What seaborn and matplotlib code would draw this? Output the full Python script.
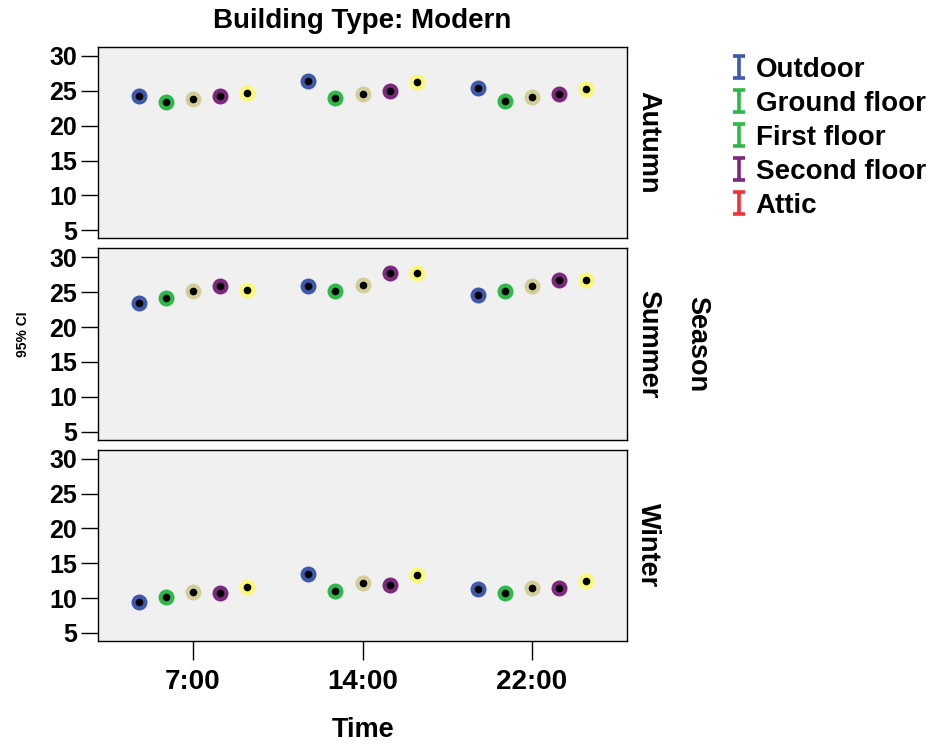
import numpy as np
import pandas as pd
import matplotlib
matplotlib.use("Agg")
import matplotlib.pyplot as plt
import seaborn as sns
from matplotlib.lines import Line2D
from matplotlib.path import Path

# ---------------- data ----------------
times = ["7:00", "14:00", "22:00"]
locations = ["Outdoor", "Ground floor", "First floor", "Second floor", "Attic"]
seasons = ["Autumn", "Summer", "Winter"]

autumn = {
    "Outdoor":      [24.3, 26.4, 25.4],
    "Ground floor": [23.4, 24.0, 23.6],
    "First floor":  [23.9, 24.5, 24.1],
    "Second floor": [24.3, 25.0, 24.5],
    "Attic":        [24.7, 26.2, 25.2],
}
summer = {
    "Outdoor":      [23.5, 25.9, 24.6],
    "Ground floor": [24.2, 25.1, 25.1],
    "First floor":  [25.2, 26.1, 25.9],
    "Second floor": [25.9, 27.8, 26.7],
    "Attic":        [25.3, 27.7, 26.8],
}
winter = {
    "Outdoor":      [9.5, 13.4, 11.3],
    "Ground floor": [10.1, 11.0, 10.7],
    "First floor":  [10.9, 12.1, 11.5],
    "Second floor": [10.8, 11.9, 11.4],
    "Attic":        [11.6, 13.3, 12.5],
}
season_data = [autumn, summer, winter]
y_ticks = [5, 10, 15, 20, 25, 30]

point_colors = ["#3E58AC", "#2EB848", "#D3CE97", "#7C287D", "#FBF873"]
legend_colors = ["#3E58AC", "#2EB848", "#2EB848", "#7C287D", "#EF3338"]

# ---------------- style ----------------
sns.set_style("white")
plt.rcParams["font.family"] = ["Liberation Sans", "DejaVu Sans"]
plt.rcParams["font.weight"] = "bold"
plt.rcParams["text.color"] = "black"
plt.rcParams["axes.labelcolor"] = "black"
plt.rcParams["xtick.color"] = "black"
plt.rcParams["ytick.color"] = "black"

W, H = 934, 746
fig, axes = plt.subplots(3, 1, figsize=(W / 100, H / 100), dpi=100,
                         sharex=True, sharey=True)
fig.subplots_adjust(left=98 / W, right=627 / W, top=1 - 47 / H,
                    bottom=1 - 641 / H, hspace=10 / 191.3)

pal_pts = dict(zip(locations, point_colors))
pal_black = {loc: "black" for loc in locations}

for i, (ax, season, data) in enumerate(zip(axes, seasons, season_data)):
    rows = []
    for loc in locations:
        for t, v in zip(times, data[loc]):
            rows.append({"Time": t, "Location": loc, "Temp": v})
    df = pd.DataFrame(rows)
    sns.stripplot(data=df, x="Time", y="Temp", hue="Location", order=times,
                  hue_order=locations, palette=pal_pts, dodge=True, jitter=False,
                  size=11.5, linewidth=0, legend=False, ax=ax, zorder=3)
    sns.stripplot(data=df, x="Time", y="Temp", hue="Location", order=times,
                  hue_order=locations, palette=pal_black, dodge=True, jitter=False,
                  size=5.5, linewidth=0, legend=False, ax=ax, zorder=4)
    ax.set_xlim(-0.56, 2.56)
    ax.set_ylim(3.85, 31.29)
    ax.set_yticks(y_ticks)
    ax.set_facecolor("#F0F0F0")
    for sp in ax.spines.values():
        sp.set_visible(True)
        sp.set_color("black")
        sp.set_linewidth(1.0)
    ax.set_xlabel("")
    ax.set_ylabel("")
    ax.tick_params(axis="y", left=True, length=12, width=1, pad=3,
                   labelsize=18, color="black", labelcolor="black")
    if i < 2:
        ax.tick_params(axis="x", bottom=False, labelbottom=False, length=0)
    else:
        ax.tick_params(axis="x", bottom=True, length=14, width=1, pad=6,
                       labelsize=20, color="black", labelcolor="black")
    for lab in ax.get_yticklabels() + ax.get_xticklabels():
        lab.set_fontweight("bold")
    # row label
    bb = ax.get_position()
    fig.text(648 / W, (bb.y0 + bb.y1) / 2, season, rotation=-90,
             ha="center", va="center", fontsize=19.5, fontweight="bold",
             color="black")

fig.text(362 / W, 1 - 21 / H, "Building Type: Modern", ha="center", va="center",
         fontsize=20, fontweight="bold", color="black")
fig.text(363 / W, 1 - 730 / H, "Time", ha="center", va="center",
         fontsize=19.5, fontweight="bold", color="black")
fig.text(697 / W, 1 - 344 / H, "Season", rotation=-90, ha="center", va="center",
         fontsize=19.5, fontweight="bold", color="black")
fig.text(23 / W, 1 - 334 / H, "95% CI", rotation=90, ha="center", va="center",
         fontsize=10, fontweight="bold", color="black")

# legend with error-bar style "I" markers
ibar = Path([(-0.55, -1), (0.55, -1), (0, -1), (0, 1), (-0.55, 1), (0.55, 1)],
            [Path.MOVETO, Path.LINETO, Path.MOVETO, Path.LINETO,
             Path.MOVETO, Path.LINETO])
handles = [Line2D([], [], linestyle="none", marker=ibar, markersize=16,
                  markeredgewidth=2.6, markeredgecolor=c, markerfacecolor="none")
           for c in legend_colors]
leg = fig.legend(handles, locations, loc="upper left",
                 bbox_to_anchor=(730.7 / W, 1 - 57 / H), frameon=False,
                 handlelength=0.6, handletextpad=0.3, labelspacing=0.29,
                 borderpad=0, borderaxespad=0,
                 prop={"family": "Liberation Sans", "weight": "bold", "size": 20})
for t in leg.get_texts():
    t.set_color("black")

fig.savefig("out.png", dpi=100)
